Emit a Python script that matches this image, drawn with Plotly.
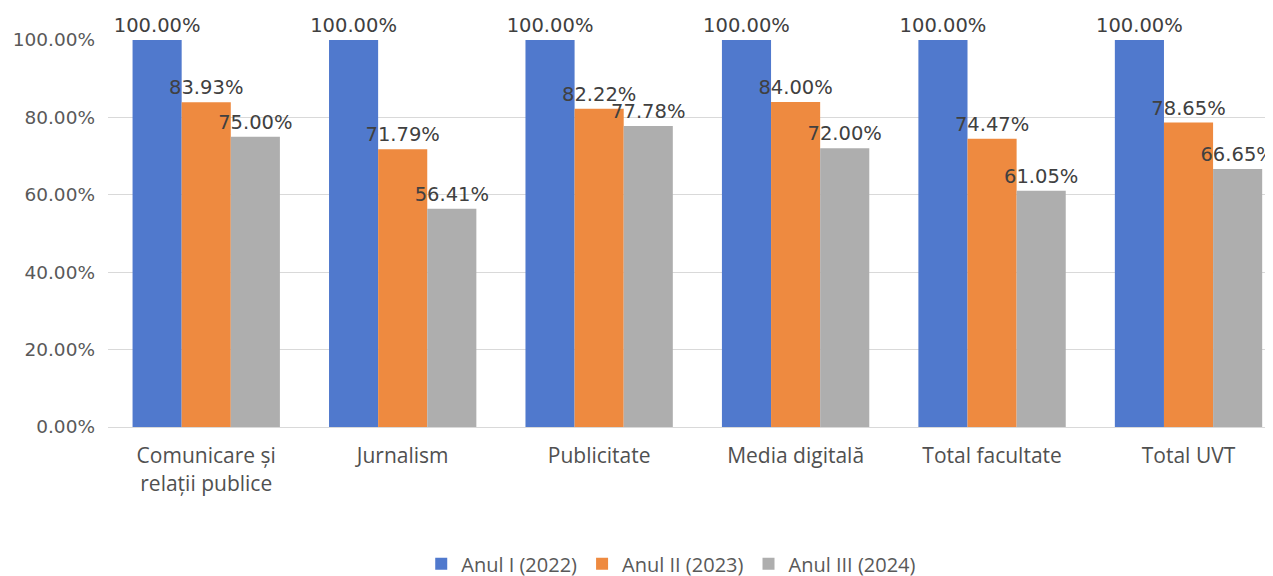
import plotly.graph_objects as go

categories = ["Comunicare și<br>relații publice", "Jurnalism", "Publicitate",
              "Media digitală", "Total facultate", "Total UVT"]
series_names = ["Anul I (2022)", "Anul II (2023)", "Anul III (2024)"]
anul_1 = [1.0, 1.0, 1.0, 1.0, 1.0, 1.0]
anul_2 = [0.8393, 0.7179, 0.8222, 0.84, 0.7447, 0.7865]
anul_3 = [0.75, 0.5641, 0.7778, 0.72, 0.6105, 0.6665]
tick_vals = [0, 0.2, 0.4, 0.6, 0.8, 1.0]

colors = ["#5079cd", "#ee8a40", "#aeaeae"]

fig = go.Figure()
for name, vals, col in zip(series_names, [anul_1, anul_2, anul_3], colors):
    fig.add_trace(go.Bar(
        x=categories, y=vals, name=name,
        marker=dict(color=col, line=dict(width=0)),
        texttemplate="%{y:.2%}", textposition="outside",
        constraintext="none",
        textfont=dict(family="DejaVu Sans", size=19.5, color="#404040"),
        cliponaxis=False,
    ))

fig.update_layout(
    width=1273, height=576,
    margin=dict(l=100, r=8, t=32, b=157, autoexpand=False),
    paper_bgcolor="white", plot_bgcolor="white",
    barmode="group", bargap=0.25, bargroupgap=0,
    showlegend=True,
    legend=dict(orientation="h", xref="container", yref="container",
                x=0.521, xanchor="center", y=0.035, yanchor="middle",
                font=dict(family="Open Sans", size=20, color="#595959"),
                itemwidth=30),
)
fig.update_xaxes(
    range=[-0.5, 5.43], automargin=False,
    showgrid=False, showline=True, linecolor="#d9d9d9", linewidth=1,
    tickfont=dict(family="Open Sans", size=21, color="#505050"),
    ticks="", ticklabelstandoff=10,
)
fig.update_yaxes(
    range=[0, 1.0], tickvals=tick_vals, tickformat=".2%", automargin=False,
    showgrid=True, gridcolor="#d9d9d9", gridwidth=1,
    zeroline=False, showline=False,
    tickfont=dict(family="DejaVu Sans", size=18.5, color="#595959"),
    ticklabelstandoff=12,
)

fig.write_html("out.html")
